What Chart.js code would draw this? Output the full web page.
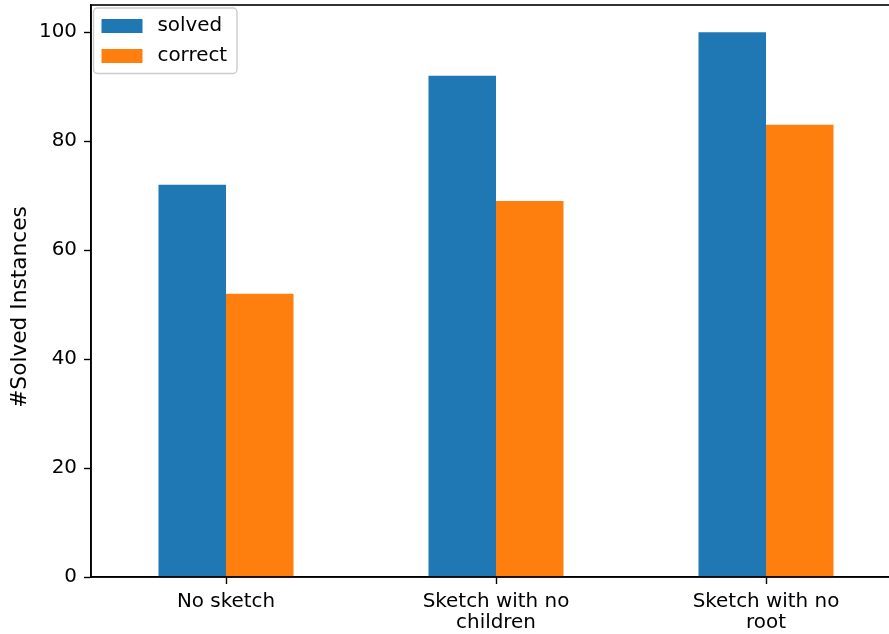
<!DOCTYPE html>
<html>
<head>
<meta charset="utf-8">
<script src="https://cdn.jsdelivr.net/npm/chart.js@4/dist/chart.umd.min.js"></script>
<style>
  html, body { margin: 0; padding: 0; background: #fff; overflow: hidden; }
  #wrap { width: 889px; height: 634px; overflow: hidden; position: relative; }
  canvas { position: absolute; left: 0; top: 0; }
</style>
</head>
<body>
<div id="wrap"><canvas id="c" width="912" height="634"></canvas></div>
<script>
const categories = [['No sketch'], ['Sketch with no', 'children'], ['Sketch with no', 'root']];
const solved = [72, 92, 100];
const correct = [52, 69, 83];
const yTicks = [0, 20, 40, 60, 80, 100];
const yLabel = '#Solved Instances';

const FONT = 'DejaVu Sans';
const FS = 19.9;
const LABEL_FS = 21.7;

// Frame around the plot area (top and right spines)
const frame = {
  id: 'frame',
  afterDatasetsDraw(chart) {
    const { ctx, chartArea: a } = chart;
    ctx.save();
    ctx.strokeStyle = '#000';
    ctx.lineWidth = 1.6;
    ctx.strokeRect(a.left, a.top, a.right - a.left, a.bottom - a.top);
    ctx.restore();
  }
};

// Rotated y-axis label
const yTitle = {
  id: 'yTitle',
  afterDraw(chart) {
    const { ctx } = chart;
    ctx.save();
    ctx.translate(25.5, 307);
    ctx.rotate(-Math.PI / 2);
    ctx.font = LABEL_FS + 'px "' + FONT + '"';
    ctx.fillStyle = '#000';
    ctx.textAlign = 'center';
    ctx.textBaseline = 'alphabetic';
    ctx.fillText(yLabel, 0, 0);
    ctx.restore();
  }
};

// Boxed legend in the upper-left corner of the plot
const boxLegend = {
  id: 'boxLegend',
  afterDraw(chart) {
    const { ctx, chartArea: a } = chart;
    const x0 = a.left + 2.5, y0 = a.top + 3;
    const w = 143.5, h = 65.5, r = 4;
    ctx.save();
    ctx.beginPath();
    ctx.roundRect(x0, y0, w, h, r);
    ctx.fillStyle = 'rgba(255,255,255,0.8)';
    ctx.fill();
    ctx.strokeStyle = '#cccccc';
    ctx.lineWidth = 1.4;
    ctx.stroke();
    ctx.font = FS + 'px "' + FONT + '"';
    ctx.textBaseline = 'middle';
    ctx.textAlign = 'left';
    chart.data.datasets.forEach((ds, i) => {
      const cy = y0 + 18 + i * 30;
      ctx.fillStyle = ds.backgroundColor;
      ctx.fillRect(x0 + 8, cy - 7, 41, 14);
      ctx.fillStyle = '#000';
      ctx.fillText(ds.label, x0 + 64, cy);
    });
    ctx.restore();
  }
};

new Chart(document.getElementById('c'), {
  type: 'bar',
  data: {
    labels: categories,
    datasets: [
      { label: 'solved', data: solved, backgroundColor: '#1f77b4' },
      { label: 'correct', data: correct, backgroundColor: '#ff7f0e' }
    ]
  },
  options: {
    responsive: false,
    animation: false,
    devicePixelRatio: 1,
    layout: { padding: { top: 5, right: 11, left: 0, bottom: 0 } },
    datasets: { bar: { categoryPercentage: 0.5, barPercentage: 1.0, borderWidth: 0 } },
    plugins: { legend: { display: false }, tooltip: { enabled: false } },
    scales: {
      x: {
        offset: true,
        grid: { display: true, drawOnChartArea: false, offset: false, tickLength: 7, tickWidth: 1.4, tickColor: '#000' },
        border: { display: true, color: '#000', width: 1.6 },
        ticks: { color: '#000', font: { family: FONT, size: FS, lineHeight: 1.08 }, padding: 7, maxRotation: 0, autoSkip: false },
        afterFit(s) { s.height = 57; s.paddingLeft = 0; s.paddingRight = 0; }
      },
      y: {
        min: 0,
        max: 105,
        afterBuildTicks(s) { s.ticks = yTicks.map(v => ({ value: v })); },
        grid: { display: true, drawOnChartArea: false, tickLength: 7, tickWidth: 1.4, tickColor: '#000' },
        border: { display: true, color: '#000', width: 1.6 },
        ticks: { color: '#000', font: { family: FONT, size: FS }, padding: 7 },
        title: { display: false },
        afterFit(s) { s.width = 91; s.paddingTop = 0; s.paddingBottom = 0; }
      }
    }
  },
  plugins: [frame, yTitle, boxLegend]
});
</script>
</body>
</html>
